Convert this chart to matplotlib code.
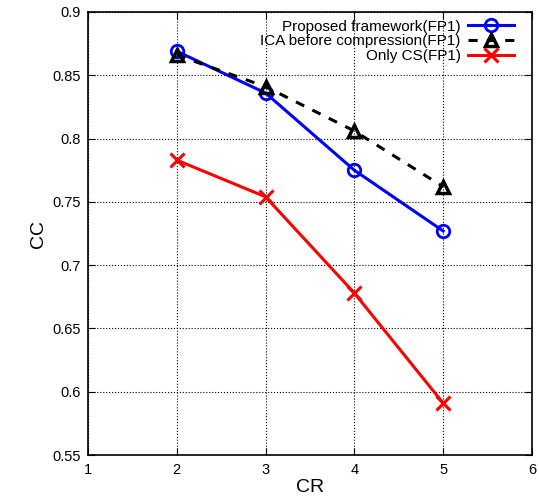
import matplotlib
matplotlib.use('Agg')
import matplotlib.pyplot as plt

plt.rcParams['font.family'] = ['Liberation Sans', 'DejaVu Sans']

cr = [2, 3, 4, 5]
proposed = [0.869, 0.836, 0.775, 0.727]
ica = [0.866, 0.841, 0.806, 0.762]
only_cs = [0.783, 0.754, 0.678, 0.591]

fig = plt.figure(figsize=(5.39, 4.99), dpi=100)
ax = fig.add_axes([0.163, 0.088, 0.824, 0.888])

ax.plot(cr, proposed, '-', color='#0000ff', lw=2.2, marker='o', ms=9,
        mfc='none', mew=2, label='Proposed framework(FP1)')
ax.plot(cr, ica, '--', color='black', lw=2.2, marker='^', ms=9,
        mfc='none', mew=2.5, dashes=(3, 3), label='ICA before compression(FP1)')
ax.plot(cr, only_cs, '-', color='#ff0000', lw=2.2, marker='x', ms=10,
        mew=2.2, label='Only CS(FP1)')

ax.set_xlim(1, 6)
ax.set_ylim(0.55, 0.9)
ax.set_xticks([1, 2, 3, 4, 5, 6])
ax.set_yticks([0.55, 0.6, 0.65, 0.7, 0.75, 0.8, 0.85, 0.9])
ax.set_yticklabels(['0.55', '0.6', '0.65', '0.7', '0.75', '0.8', '0.85', '0.9'])
ax.tick_params(direction='in', top=True, right=True, labelsize=10.5, length=5)
ax.tick_params(axis='x', pad=6)
ax.tick_params(axis='y', pad=5)
ax.grid(True, color='black', linestyle=':', linewidth=0.8)
for s in ax.spines.values():
    s.set_linewidth(1.2)

ax.set_xlabel('CR', fontsize=14, labelpad=1)
ax.set_ylabel('CC', fontsize=14, labelpad=4)

ax.legend(loc='upper right', bbox_to_anchor=(0.977, 1.0), frameon=False,
          markerfirst=False, fontsize=11, handlelength=3, handletextpad=0.5,
          labelspacing=0.05, borderaxespad=0.3, borderpad=0.2)

fig.savefig('out.png', dpi=100)
